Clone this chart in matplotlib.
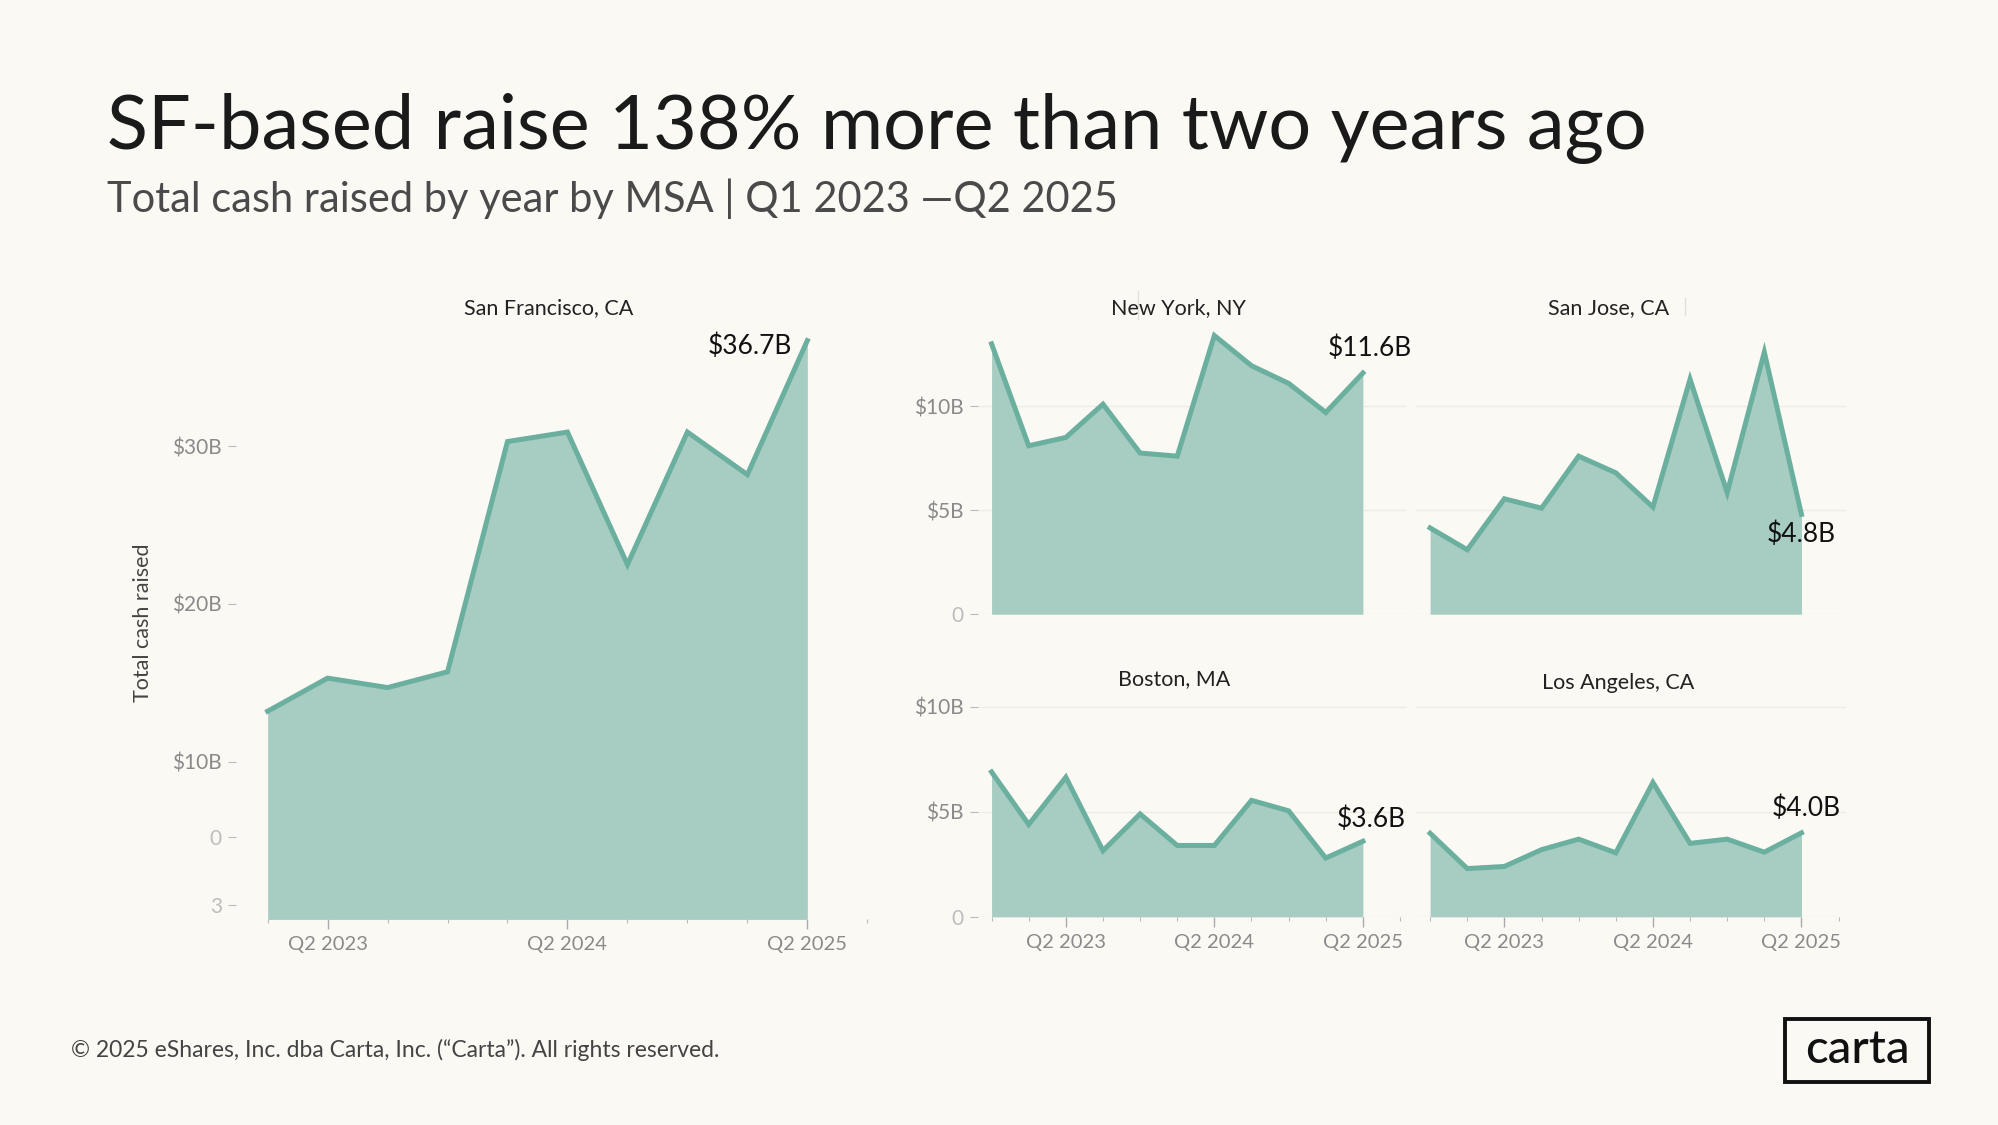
import matplotlib
matplotlib.use("Agg")
import matplotlib.pyplot as plt
from matplotlib.patches import Rectangle
import numpy as np

# --- data (billions of USD per quarter) ---
quarters = ["Q4 2022", "Q1 2023", "Q2 2023", "Q3 2023", "Q4 2023", "Q1 2024",
            "Q2 2024", "Q3 2024", "Q4 2024", "Q1 2025", "Q2 2025"]
sf_quarters = quarters[1:]
sf_values = [13.2, 15.3, 14.7, 15.7, 30.3, 30.9, 22.5, 30.9, 28.2, 36.7]
ny_values = [13.0, 8.1, 8.5, 10.1, 7.75, 7.6, 13.4, 11.95, 11.1, 9.7, 11.6]
sj_values = [4.15, 3.1, 5.55, 5.1, 7.6, 6.8, 5.15, 11.3, 5.85, 12.6, 4.8]
bos_values = [6.9, 4.4, 6.65, 3.15, 4.9, 3.4, 3.4, 5.55, 5.05, 2.8, 3.6]
la_values = [3.98, 2.3, 2.4, 3.2, 3.7, 3.05, 6.4, 3.5, 3.7, 3.08, 4.0]
last_labels = {"sf": "$36.7B", "ny": "$11.6B", "sj": "$4.8B", "bos": "$3.6B", "la": "$4.0B"}

BG = "#FBF9F4"
FILL = "#A7CCC2"
LINE = "#6BAF9F"
GREY = "#8A8A8A"
FONT = "Lato"

W, H = 1568.0, 881.0  # layout measured on a 1568x881 view of the slide


def rect(left, right, bottom, top):
    return [left / W, 1 - bottom / H, (right - left) / W, (bottom - top) / H]


def fx(x):
    return x / W


def fy(y):
    return 1 - y / H


plt.rcParams["font.family"] = [FONT, "DejaVu Sans"]
fig = plt.figure(figsize=(19.99, 11.25), dpi=100, facecolor=BG)


def style(ax, xlim, ylim, yticks, ylabels, major, major_labels, n_minor, show_x=True, grid=True):
    ax.set_facecolor("none")
    for s in ax.spines.values():
        s.set_visible(False)
    ax.set_xlim(*xlim)
    ax.set_ylim(*ylim)
    ax.set_yticks(yticks)
    ax.set_yticklabels(ylabels)
    ax.tick_params(axis="y", length=6, width=0.8, color="#BBBBBB", pad=4,
                   labelsize=15, labelcolor=GREY)
    if show_x:
        ax.set_xticks(major)
        ax.set_xticklabels(major_labels)
        ax.set_xticks(range(n_minor), minor=True)
        ax.tick_params(axis="x", which="major", length=7, width=1, color="#AAAAAA",
                       pad=5, labelsize=14.5, labelcolor=GREY)
        ax.tick_params(axis="x", which="minor", length=3, width=0.8, color="#BBBBBB")
    else:
        ax.set_xticks([])
    if grid:
        ax.yaxis.grid(True, color="#EFECE5", linewidth=1)
        ax.set_axisbelow(True)


def area(ax, values):
    x = np.arange(len(values))
    ax.fill_between(x, values, 0, color=FILL, linewidth=0, zorder=2)
    ax.plot(x, values, color=LINE, linewidth=3.6, solid_joinstyle="miter", zorder=3)
    return x


# --- San Francisco (large panel) ---
ax_sf = fig.add_axes(rect(185, 685, 720, 255))
x = area(ax_sf, sf_values)
style(ax_sf, (-0.53, 10.1), (0, 37.65), [0.9, 5.2, 10, 20, 30],
      ["3", "0", "$10B", "$20B", "$30B"], [1, 5, 9],
      [sf_quarters[1], sf_quarters[5], sf_quarters[9]], 11, grid=False)
for lbl in ax_sf.get_yticklabels()[:2]:
    lbl.set_color("#BDBDBD")
ax_sf.set_ylabel("Total cash raised", fontsize=15.5, color="#444444", labelpad=14)
ax_sf.annotate(last_labels["sf"], xy=(x[-1], sf_values[-1]), xytext=(-11, -4),
               textcoords="offset points", ha="right", va="center", fontsize=19, color="#111111")

# --- small multiples ---
small = [
    ("ny", ny_values, rect(767, 1104, 481, 253), (0, 14), True, False, (5, 17.5)),
    ("sj", sj_values, rect(1111, 1448, 481, 253), (0, 14), False, False, (0, -14.5)),
    ("bos", bos_values, rect(767, 1104, 718, 547), (0, 10.4), True, True, (6, 15.5)),
    ("la", la_values, rect(1111, 1448, 718, 547), (0, 10.4), False, True, (3.5, 17.5)),
]
for key, vals, pos, ylim, show_y, show_x, off in small:
    ax = fig.add_axes(pos)
    x = area(ax, vals)
    if show_y:
        ylab = ["0", "$5B", "$10B"]
    else:
        ylab = ["", "", ""]
    style(ax, (-0.37, 11.2), ylim, [0, 5, 10], ylab, [2, 6, 10],
          [quarters[2], quarters[6], quarters[10]], 12, show_x=show_x)
    if show_y:
        ax.get_yticklabels()[0].set_color("#BDBDBD")
    else:
        ax.tick_params(axis="y", length=0)
    ax.annotate(last_labels[key], xy=(x[-1], vals[-1]), xytext=off,
                textcoords="offset points", ha="center", va="center", fontsize=19, color="#111111")

# --- panel titles ---
for name, px, py in [("San Francisco, CA", 430, 241), ("New York, NY", 924, 241),
                     ("San Jose, CA", 1262, 241), ("Boston, MA", 921, 532),
                     ("Los Angeles, CA", 1269, 535)]:
    fig.text(fx(px), fy(py), name, ha="center", va="center", fontsize=15.5, color="#222222")

# faint stray separators next to the top titles
fig.add_artist(plt.Line2D([fx(893), fx(893)], [fy(228), fy(250)], color="#E2E0DA", lw=1))
fig.add_artist(plt.Line2D([fx(1322), fx(1322)], [fy(233), fy(247)], color="#E2E0DA", lw=1))

# --- headline ---
fig.text(fx(84), fy(101), "SF-based raise 138% more than two years ago", ha="left",
         va="center", fontsize=54.5, color="#1A1A1A")
fig.text(fx(84), fy(156), "Total cash raised by year by MSA | Q1 2023 \u2014Q2 2025", ha="left",
         va="center", fontsize=30, color="#4A4A4A")

# --- footer ---
fig.text(fx(56), fy(822), "\u00a9 2025 eShares, Inc. dba Carta, Inc. (\u201cCarta\u201d). All rights reserved.",
         ha="left", va="center", fontsize=16.5, color="#444444")
fig.add_artist(Rectangle((fx(1400), fy(847)), fx(1513) - fx(1400), fy(798) - fy(847),
                         transform=fig.transFigure, fill=False, edgecolor="#111111", linewidth=2.8))
fig.text(fx(1457), fy(822), "carta", ha="center", va="center", fontsize=34,
         color="#111111", fontweight="medium")

fig.savefig("out.png", dpi=100, facecolor=BG)
